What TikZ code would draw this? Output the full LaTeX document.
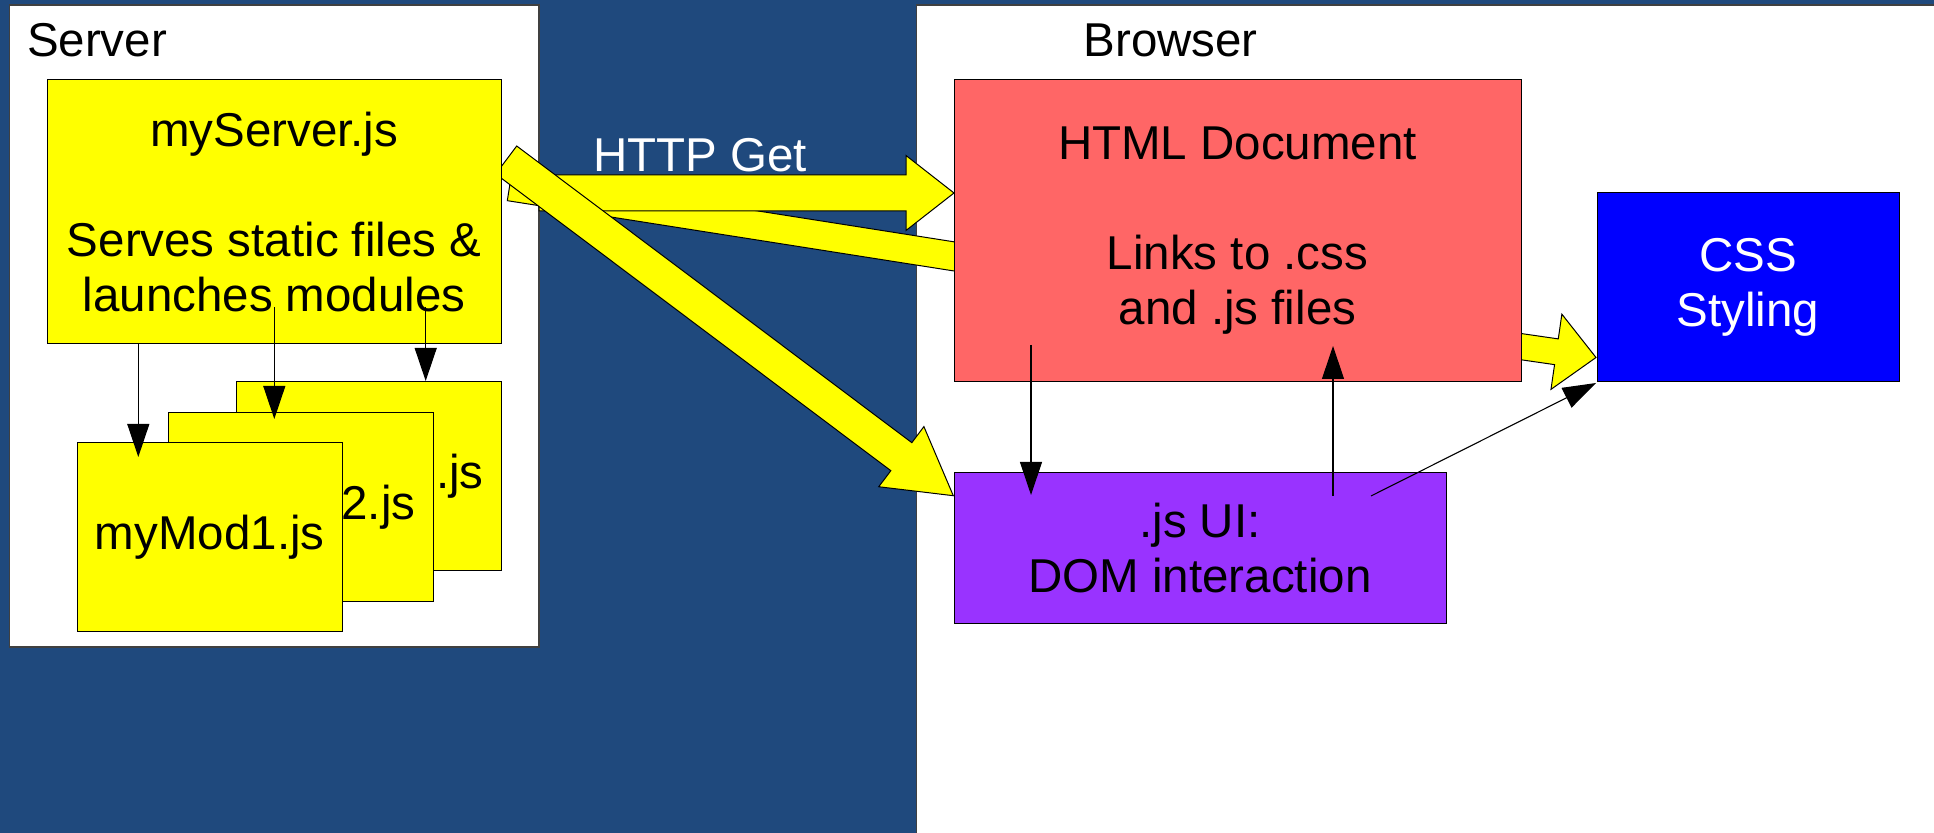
\documentclass[tikz,border=0pt]{standalone}
\usepackage{fontspec}
\setmainfont{Liberation Sans}
\usetikzlibrary{calc,arrows.meta}
\definecolor{bgblue}{RGB}{31,73,125}
\definecolor{htmlred}{RGB}{255,102,102}
\definecolor{uipurple}{RGB}{153,51,255}
\definecolor{cssblue}{RGB}{0,0,255}
\definecolor{modyellow}{RGB}{255,255,0}
% #1 prefix, #2 start, #3 tip, #4 shaft half width, #5 head half width, #6 head length
\newcommand{\blockarr}[6]{%
  \coordinate (#1h) at ($(#3)!#6!(#2)$);
  \draw[blockarrow] ($(#2)!#4!90:(#3)$) -- ($(#1h)!#4!-90:(#2)$) -- ($(#1h)!#5!-90:(#2)$) -- (#3)
    -- ($(#1h)!#5!90:(#2)$) -- ($(#1h)!#4!90:(#2)$) -- ($(#2)!#4!-90:(#3)$) -- cycle;}
\begin{document}
\begin{tikzpicture}[x=0.5pt,y=-0.5pt,
  every node/.style={inner sep=0pt, outer sep=0pt},
  txt/.style={font=\fontsize{23.75}{27.5}\selectfont},
  lbl/.style={txt, anchor=base west},
  panel/.style={draw=black!75, line width=0.6pt, fill=white, rectangle, anchor=north west},
  box/.style={draw=black, line width=0.5pt, align=center, txt, rectangle},
  modbox/.style={box, fill=modyellow, minimum width=132.5pt, minimum height=94.5pt},
  blockarrow/.style={draw=black, line width=0.5pt, fill=modyellow, line join=miter},
  thinarrow/.style={draw=black, line width=0.55pt, -{Triangle[length=16.5pt,width=11pt]}}]
\useasboundingbox (0,0) rectangle (1934,833);
\clip (0,0) rectangle (1934,833);
\fill[bgblue] (0,0) rectangle (1934,833);
% panels
\node[panel, minimum width=264.9pt, minimum height=321pt] (serverpanel) at (9.2,5) {};
\node[panel, minimum width=520pt, minimum height=420pt] (browserpanel) at (916.7,5) {};
% labels
\node[lbl] (serverlbl) at (27,57) {Server};
\node[lbl] (browserlbl) at (1083.5,57) {Browser};
\node[lbl, text=white] (httpget) at (593,172) {HTTP Get};
% block arrows
\coordinate (ss) at (509.55,186.45);
\coordinate (se) at (980,260.5);
\draw[blockarrow] ($(ss)!7.2pt!90:(se)$) -- ($(se)!7.2pt!-90:(ss)$) -- ($(se)!7.2pt!90:(ss)$) -- ($(ss)!7.2pt!-90:(se)$) -- cycle;
\coordinate (hs) at (539,193);
\coordinate (he) at (954,193);
\blockarr{h}{hs}{he}{9pt}{18.75pt}{24pt}
\coordinate (ds) at (506.2,160);
\coordinate (de) at (953.3,495.7);
\blockarr{d}{ds}{de}{8.75pt}{18.8pt}{32.5pt}
\coordinate (cs) at (1500,343.6);
\coordinate (ce) at (1596,357.5);
\blockarr{c}{cs}{ce}{6.5pt}{19pt}{20pt}
% boxes
\node[box, fill=modyellow, minimum width=226.85pt, minimum height=132pt] (myserver) at (274.15,212)
  {myServer.js\\[27.5pt]Serves static files \&\\launches modules};
\node[modbox] (mod3) at (368.75,476.5) {myMod3.js};
\node[modbox] (mod2) at (300.5,507.5) {myMod2.js};
\node[modbox] (mod1) at (209.75,537.5) {myMod1.js};
\node[box, fill=htmlred, minimum width=283.5pt, minimum height=151pt] (html) at (1237.5,231)
  {HTML Document\\[27.5pt]Links to .css\\and .js files};
\node[box, fill=uipurple, minimum width=246pt, minimum height=75.5pt] (ui) at (1200,548.5)
  {.js UI:\\DOM interaction};
\node[box, fill=cssblue, text=white, minimum width=151pt, minimum height=94.5pt] (css) at (1748,287.5)
  {CSS\\Styling};
% thin arrows
\coordinate (t1a) at (138.3,344);  \coordinate (t1b) at (138.3,457);
\coordinate (t2a) at (274.3,307);  \coordinate (t2b) at (274.3,419);
\coordinate (t3a) at (425.7,307);  \coordinate (t3b) at (425.7,381);
\coordinate (t4a) at (1031,345);   \coordinate (t4b) at (1031,495);
\coordinate (t5a) at (1333,496);   \coordinate (t5b) at (1333,346);
\coordinate (t6a) at (1371,496);   \coordinate (t6b) at (1596,383);
\draw[thinarrow] (t1a) -- (t1b);
\draw[thinarrow] (t2a) -- (t2b);
\draw[thinarrow] (t3a) -- (t3b);
\draw[thinarrow] (t4a) -- (t4b);
\draw[thinarrow] (t5a) -- (t5b);
\draw[thinarrow] (t6a) -- (t6b);
\end{tikzpicture}
\end{document}
